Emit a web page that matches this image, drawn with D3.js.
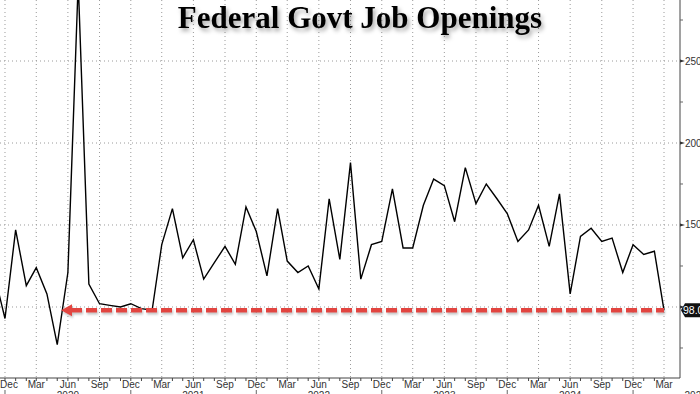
<!DOCTYPE html>
<html>
<head>
<meta charset="utf-8">
<script src="https://cdn.jsdelivr.net/npm/d3@7"></script>
<style>
  html, body { margin: 0; padding: 0; background: #fff; }
  svg { display: block; }
  .grid line { stroke: #9a9a9a; stroke-dasharray: 1,3; }
  .lbl { font-family: "Liberation Sans", Arial, sans-serif; font-size: 10px; fill: #333; }
  .tagtxt { font-family: "Liberation Sans", Arial, sans-serif; font-size: 10.5px; fill: #fff; }
</style>
</head>
<body>
<svg id="chart" width="700" height="394"></svg>
<script>
  // monthly federal government job openings (thousands), Nov 2019 .. Mar 2025
  const firstMonth = '2019-11';
  const lastMonth = '2025-03';
  const openings = [
    119, 93,
    147, 113, 124, 108, 77, 121, 298, 114, 102, 101, 100, 102,
    99, 98, 138, 160, 130, 141, 117, 127, 137, 126, 161, 146,
    119, 160, 128, 121, 125, 111, 166, 129, 188, 117, 138, 140,
    172, 136, 136, 162, 178, 174, 152, 185, 163, 175, 166, 157,
    140, 147, 162, 137, 169, 108, 143, 148, 140, 142, 121, 138,
    132, 134, 98
  ];
  const yTicks = [100, 150, 200, 250];
  const yMinorTicks = [75, 125, 175, 225, 275];
  const yearLabels = ['2020', '2021', '2022', '2023', '2024', '2025'];
  const lastValue = 98.0;
  const arrowTip = '2020-05-12';
  const title = 'Federal Govt Job Openings';

  const width = 700, height = 394;
  const margin = {top: 0, right: 20, bottom: 16, left: 0};
  const innerW = width - margin.left - margin.right;
  const innerH = height - margin.top - margin.bottom;

  const parseMonth = d3.utcParse('%Y-%m');
  const months = d3.utcMonth.range(parseMonth(firstMonth), d3.utcMonth.offset(parseMonth(lastMonth), 1));
  const data = months.map((d, i) => ({date: d, value: openings[i]}));

  const x = d3.scaleUtc()
    .domain([new Date(Date.UTC(2019, 10, 16, 12)), new Date(Date.UTC(2025, 3, 16, 12))])
    .range([0, innerW]);
  const y = d3.scaleLinear().domain([56.7, 287.2]).range([innerH, 0]);

  const svg = d3.select('#chart');
  const defs = svg.append('defs');
  defs.append('clipPath').attr('id', 'clip')
    .append('rect').attr('width', innerW).attr('height', innerH);
  defs.append('filter').attr('id', 'titleShadow').attr('x', '-10%').attr('y', '-30%').attr('width', '120%').attr('height', '170%')
    .append('feDropShadow').attr('dx', 2).attr('dy', 3).attr('stdDeviation', 2)
    .attr('flood-color', '#000').attr('flood-opacity', 0.35);
  defs.append('filter').attr('id', 'dashShadow').attr('x', '-5%').attr('y', '-200%').attr('width', '110%').attr('height', '500%')
    .append('feDropShadow').attr('dx', 1).attr('dy', 2).attr('stdDeviation', 1.2)
    .attr('flood-color', '#888').attr('flood-opacity', 0.5);

  const g = svg.append('g').attr('transform', `translate(${margin.left},${margin.top})`);

  // quarterly months shown on axis
  const quarterMonths = months.filter(d => [11, 2, 5, 8].includes(d.getUTCMonth()));

  // grid
  g.append('g').attr('class', 'grid')
    .selectAll('line').data(quarterMonths).join('line')
    .attr('x1', d => x(d)).attr('x2', d => x(d))
    .attr('y1', 0).attr('y2', innerH);
  g.append('g').attr('class', 'grid')
    .selectAll('line').data(yTicks).join('line')
    .attr('x1', 0).attr('x2', innerW)
    .attr('y1', d => y(d)).attr('y2', d => y(d));

  // title
  svg.append('text')
    .attr('x', 360).attr('y', 28)
    .attr('text-anchor', 'middle')
    .attr('font-family', '"Liberation Serif", "Times New Roman", serif')
    .attr('font-weight', 'bold')
    .attr('font-size', 31)
    .attr('fill', '#000')
    .attr('filter', 'url(#titleShadow)')
    .text(title);

  // line
  const line = d3.line().x(d => x(d.date)).y(d => y(d.value));
  g.append('path')
    .datum(data)
    .attr('clip-path', 'url(#clip)')
    .attr('fill', 'none')
    .attr('stroke', '#000')
    .attr('stroke-width', 1.4)
    .attr('d', line);

  // red dashed arrow at latest value
  const tipX = x(new Date(arrowTip));
  const endX = x(months[months.length - 1]);
  const ay = y(lastValue);
  const arrow = g.append('g').attr('filter', 'url(#dashShadow)');
  arrow.append('line')
    .attr('x1', tipX + 10).attr('x2', endX)
    .attr('y1', ay).attr('y2', ay)
    .attr('stroke', '#e2443f')
    .attr('stroke-width', 4.5)
    .attr('stroke-dasharray', '11,4');
  arrow.append('path')
    .attr('d', `M${tipX},${ay} L${tipX + 11},${ay - 6} L${tipX + 11},${ay + 6} Z`)
    .attr('fill', '#e2443f');

  // x axis
  g.append('line')
    .attr('x1', 0).attr('x2', innerW)
    .attr('y1', innerH).attr('y2', innerH)
    .attr('stroke', '#444');
  g.append('g').selectAll('line').data(months).join('line')
    .attr('x1', d => x(d)).attr('x2', d => x(d))
    .attr('y1', innerH).attr('y2', innerH + 3)
    .attr('stroke', '#444');
  const fmtMon = d3.utcFormat('%b');
  g.append('g').selectAll('text').data(quarterMonths).join('text')
    .attr('class', 'lbl')
    .attr('x', d => Math.max(x(d), 9))
    .attr('y', innerH + 10)
    .attr('text-anchor', 'middle')
    .text(d => fmtMon(d));
  // year separators at December
  const decs = months.filter(d => d.getUTCMonth() === 11);
  g.append('g').selectAll('line').data(decs).join('line')
    .attr('x1', d => x(d)).attr('x2', d => x(d))
    .attr('y1', innerH + 12).attr('y2', height)
    .attr('stroke', '#666');
  g.append('g').selectAll('text').data(yearLabels).join('text')
    .attr('class', 'lbl')
    .attr('x', d => x(new Date(Date.UTC(+d, 5, 1))))
    .attr('y', innerH + 21)
    .attr('text-anchor', 'middle')
    .text(d => d);

  // right y axis
  g.append('line')
    .attr('x1', innerW).attr('x2', innerW)
    .attr('y1', 0).attr('y2', innerH)
    .attr('stroke', '#444');
  g.append('g').selectAll('path').data(yTicks).join('path')
    .attr('d', d => `M${innerW},${y(d) - 1.5} L${innerW + 5},${y(d)} L${innerW},${y(d) + 1.5} Z`)
    .attr('fill', '#333');
  g.append('g').selectAll('line').data(yMinorTicks).join('line')
    .attr('x1', innerW).attr('x2', innerW + 3)
    .attr('y1', d => y(d)).attr('y2', d => y(d))
    .attr('stroke', '#666');
  // the 100 label sits under the last-value tag, as in the source
  g.append('g').selectAll('text').data(yTicks.filter(d => Math.abs(y(d) - y(lastValue)) > 12)).join('text')
    .attr('class', 'lbl')
    .attr('x', innerW + 5)
    .attr('y', d => y(d) + 3.5)
    .text(d => d);

  // last value tag
  const tag = g.append('g');
  tag.append('path')
    .attr('d', `M${innerW + 1},${ay} L${innerW + 5},${ay - 7} L${width + 4},${ay - 7} L${width + 4},${ay + 7} L${innerW + 5},${ay + 7} Z`)
    .attr('fill', '#111');
  tag.append('text')
    .attr('class', 'tagtxt')
    .attr('x', innerW + 3)
    .attr('y', ay + 4)
    .text(lastValue.toFixed(1));
</script>
</body>
</html>
